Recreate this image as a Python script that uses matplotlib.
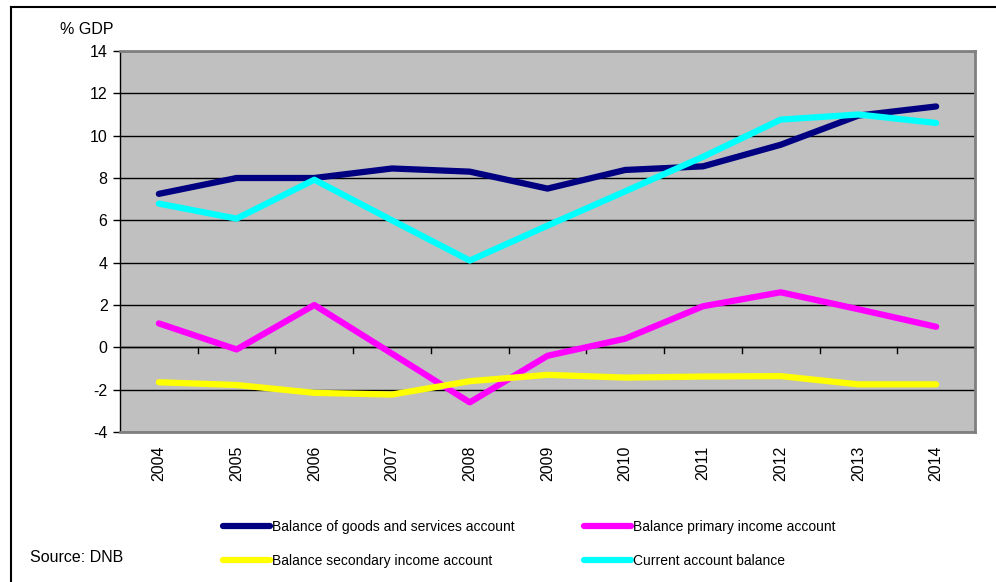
import numpy as np
import matplotlib.pyplot as plt
from matplotlib.lines import Line2D

plt.rcParams['font.family'] = ['Liberation Sans', 'DejaVu Sans']
plt.rcParams['axes.unicode_minus'] = False

years = ['2004', '2005', '2006', '2007', '2008', '2009', '2010', '2011', '2012', '2013', '2014']
goods_services = [7.25, 8.0, 8.0, 8.45, 8.3, 7.5, 8.38, 8.55, 9.57, 10.95, 11.38]
primary_income = [1.13, -0.1, 2.0, -0.3, -2.6, -0.4, 0.41, 1.94, 2.6, 1.8, 0.97]
secondary_income = [-1.65, -1.78, -2.15, -2.23, -1.6, -1.3, -1.43, -1.38, -1.36, -1.75, -1.75]
current_account = [6.79, 6.08, 7.92, 6.0, 4.1, 5.75, 7.37, 9.0, 10.76, 11.0, 10.6]

series = [
    ('Balance of goods and services account', goods_services, '#000080'),
    ('Balance primary income account', primary_income, '#FF00FF'),
    ('Balance secondary income account', secondary_income, '#FFFF00'),
    ('Current account balance', current_account, '#00FFFF'),
]

fig = plt.figure(figsize=(9.96, 5.82), dpi=100)
ax = fig.add_axes([120/996, 1 - 432/582, 855/996, 381/582])
ax.set_facecolor('#C0C0C0')

x = np.arange(len(years)) + 0.5
lines = []
for name, vals, col in series:
    l, = ax.plot(x, vals, color=col, lw=4.5, solid_capstyle='round',
                 solid_joinstyle='round', label=name, zorder=3)
    lines.append(l)

ax.set_xlim(0, len(years))
ax.set_ylim(-4, 14)
ax.set_yticks(np.arange(-4, 15, 2))
ax.tick_params(axis='y', labelsize=11.5, length=5, width=1, direction='out', pad=4)
ax.grid(axis='y', color='black', lw=1, zorder=1)
ax.set_axisbelow(True)

# category labels below plot, boundary ticks on the zero line
ax.set_xticks(x)
ax.set_xticklabels(years, rotation=90, fontsize=11.5)
ax.tick_params(axis='x', length=0, pad=10)
ax.axhline(0, color='black', lw=1, zorder=2)
for b in range(1, len(years) + 1):
    ax.plot([b, b], [0, -0.25], color='black', lw=1, zorder=2, clip_on=False)

for s in ['top', 'right', 'bottom']:
    ax.spines[s].set_color('#808080')
    ax.spines[s].set_linewidth(2)
ax.spines['left'].set_color('black')
ax.spines['left'].set_linewidth(1)

fig.text(60/996, 1 - 30/582, '% GDP', fontsize=11.5, va='center', ha='left')
fig.text(30/996, 1 - 557/582, 'Source: DNB', fontsize=11.5, va='center', ha='left')

# frame lines of the original picture
fig.add_artist(Line2D([11/996, 1], [1 - 7/582, 1 - 7/582], color='black', lw=1.5))
fig.add_artist(Line2D([11/996, 11/996], [0, 1 - 7/582], color='black', lw=1.5))

# row-wise order: goods, primary / secondary, current
order = [0, 2, 1, 3]
fig.legend([lines[i] for i in order], [series[i][0] for i in order],
           loc='upper left', bbox_to_anchor=(210/996, 1 - 507/582), ncol=2,
           frameon=False, fontsize=10, handlelength=3.4, handletextpad=0.15,
           columnspacing=5.0, labelspacing=1.5)

plt.savefig('out.png', dpi=100)
